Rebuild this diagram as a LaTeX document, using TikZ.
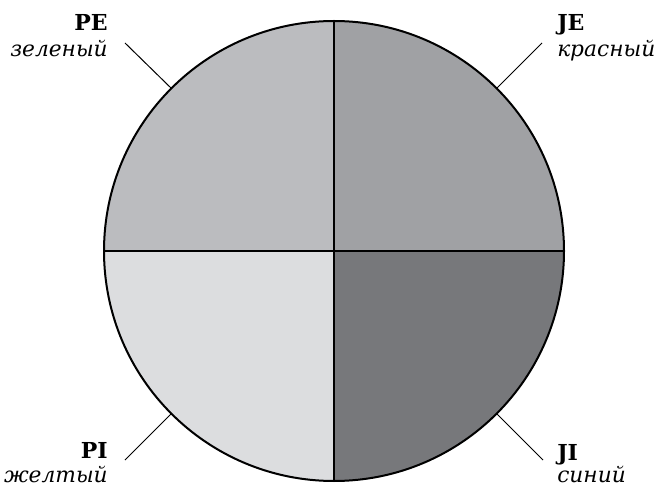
\documentclass[tikz,border=0pt]{standalone}
\usepackage{fontspec}
\setmainfont{DejaVu Serif}
\definecolor{qTL}{HTML}{BBBCBF}
\definecolor{qTR}{HTML}{A0A1A4}
\definecolor{qBL}{HTML}{DCDDDF}
\definecolor{qBR}{HTML}{77787B}
\tikzset{
  lbl/.style={inner sep=0pt, font=\fontsize{16.5}{19}\selectfont\bfseries},
  rulbl/.style={inner sep=0pt, text height=0.72em, text depth=0.15em,
    font=\fontsize{16.3}{19}\selectfont\itshape},
  leader/.style={line width=0.75pt},
  divider/.style={line width=1.3pt},
}
\begin{document}
\begin{tikzpicture}[x=0.75pt,y=-0.75pt]
\useasboundingbox (0,0) rectangle (660,488);
\coordinate (c) at (334,251);
\fill[qTL] (c) -- (104,251) arc[start angle=180, end angle=270, radius=230] -- cycle;
\fill[qTR] (c) -- (334,21) arc[start angle=270, end angle=360, radius=230] -- cycle;
\fill[qBR] (c) -- (564,251) arc[start angle=0, end angle=90, radius=230] -- cycle;
\fill[qBL] (c) -- (334,481) arc[start angle=90, end angle=180, radius=230] -- cycle;
\draw[divider] (334,21) -- (334,481);
\draw[divider] (104,251) -- (564,251);
\draw[line width=1.5pt] (c) circle[radius=230];
% labels
\node[lbl, anchor=base east] (pe) at (108,31) {PE};
\node[rulbl, anchor=base east] (pez) at (108,57) {зеленый};
\node[lbl, anchor=base west] (je) at (557,31) {JE};
\node[rulbl, anchor=base west] (jek) at (557,57) {красный};
\node[lbl, anchor=base east] (pi) at (108,458) {PI};
\node[rulbl, anchor=base east] (pij) at (108,482) {желтый};
\node[lbl, anchor=base west] (ji) at (557,460) {JI};
\node[rulbl, anchor=base west] (jis) at (557,482) {синий};
% leaders
\coordinate (pe1) at (125,43); \coordinate (pe2) at (171.4,88.4);
\coordinate (je1) at (542,43); \coordinate (je2) at (496.6,88.4);
\coordinate (pi1) at (125,460); \coordinate (pi2) at (171.4,413.6);
\coordinate (ji1) at (543,460); \coordinate (ji2) at (496.6,413.6);
\draw[leader] (pe1) -- (pe2);
\draw[leader] (je1) -- (je2);
\draw[leader] (pi1) -- (pi2);
\draw[leader] (ji1) -- (ji2);
\end{tikzpicture}
\end{document}
